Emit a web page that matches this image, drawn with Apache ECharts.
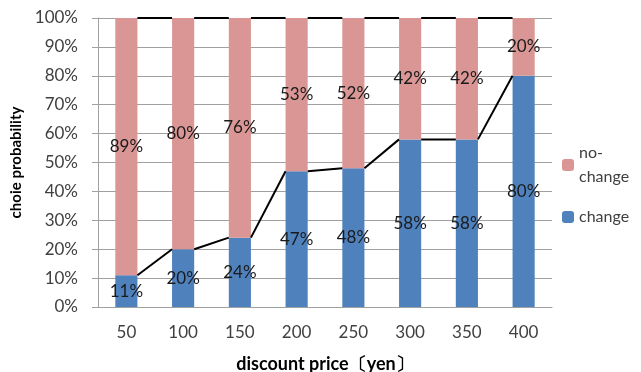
<!DOCTYPE html>
<html>
<head>
<meta charset="utf-8">
<script src="https://cdn.jsdelivr.net/npm/echarts@6/dist/echarts.min.js"></script>
<style>
	html, body { margin: 0; padding: 0; background: #fff; }
	#main { width: 641px; height: 372px; }
</style>
</head>
<body>
<div id="main"></div>
<script>
	// 数据
	var prices = ['50', '100', '150', '200', '250', '300', '350', '400'];
	var change = [11, 20, 24, 47, 48, 58, 58, 80];
	var noChange = [89, 80, 76, 53, 52, 42, 42, 20];
	var yTicks = [0, 10, 20, 30, 40, 50, 60, 70, 80, 90, 100];

	var BAR_RATIO = 0.39; // 柱宽占类目宽
	var font = 'Lato, "Open Sans", sans-serif';

	// 系列线：前一根柱右边缘连到后一根柱左边缘
	function seriesLine(tops) {
		return tops.slice(0, -1).map(function(v, i) {
			return [i, v, tops[i + 1]];
		});
	}
	var changeTops = change.slice();
	var allTops = change.map(function(v, i) { return v + noChange[i]; });

	function renderLine(params, api) {
		var half = api.size([1, 0])[0] * BAR_RATIO / 2;
		var a = api.coord([api.value(0), api.value(1)]);
		var b = api.coord([api.value(0) + 1, api.value(2)]);
		return {
			type: 'line',
			shape: { x1: a[0] + half, y1: a[1], x2: b[0] - half, y2: b[1] },
			style: { stroke: '#000', lineWidth: 2 }
		};
	}

	var myChart = echarts.init(document.getElementById('main'));
	var option = {
		animation: false,
		textStyle: { fontFamily: font },
		grid: { left: 98, right: 89, top: 18, bottom: 65, outerBoundsMode: 'none' },
		legend: [{
			data: ['no-change'],
			orient: 'vertical',
			left: 557,
			top: 124,
			itemWidth: 12,
			itemHeight: 12,
			itemGap: 4,
			formatter: function() { return 'no-\nchange'; },
			textStyle: { fontSize: 16, color: '#404040', lineHeight: 24, padding: [24, 0, 0, 0] }
		}, {
			data: ['change'],
			orient: 'vertical',
			left: 557,
			top: 204,
			itemWidth: 12,
			itemHeight: 12,
			itemGap: 4,
			textStyle: { fontSize: 16, color: '#404040' }
		}],
		xAxis: {
			type: 'category',
			data: prices,
			name: 'discount price〔yen〕',
			nameLocation: 'middle',
			nameGap: 48,
			nameTextStyle: { fontSize: 18, fontWeight: 'bold', color: '#000' },
			axisLine: { lineStyle: { color: '#a0a0a0', width: 1 } },
			axisTick: { show: false },
			axisLabel: { fontSize: 17, color: '#404040', margin: 17 }
		},
		yAxis: {
			type: 'value',
			min: yTicks[0],
			max: yTicks[yTicks.length - 1],
			interval: 10,
			name: 'choie probability',
			nameLocation: 'middle',
			nameRotate: 90,
			nameGap: 72,
			nameTextStyle: { fontSize: 15, fontWeight: 'bold', color: '#000' },
			axisLine: { show: true, lineStyle: { color: '#a0a0a0' } },
			axisTick: { show: true, length: 6, lineStyle: { color: '#a0a0a0' } },
			splitLine: { lineStyle: { color: '#a0a0a0' } },
			axisLabel: { fontSize: 17, color: '#404040', margin: 20, formatter: '{value}%' }
		},
		series: [{
			name: 'change',
			type: 'bar',
			stack: 'p',
			barWidth: (BAR_RATIO * 100) + '%',
			data: change,
			itemStyle: { color: '#4f81bd' },
			label: { show: true, position: 'inside', formatter: '{c}%', fontSize: 17, color: '#1a1a1a' }
		}, {
			name: 'no-change',
			type: 'bar',
			stack: 'p',
			barWidth: (BAR_RATIO * 100) + '%',
			data: noChange,
			itemStyle: { color: '#d99694' },
			label: { show: true, position: 'inside', formatter: '{c}%', fontSize: 17, color: '#1a1a1a' }
		}, {
			type: 'custom',
			renderItem: renderLine,
			data: seriesLine(changeTops),
			encode: { x: 0, y: 1 },
			z: 5,
			silent: true
		}, {
			type: 'custom',
			renderItem: renderLine,
			data: seriesLine(allTops),
			encode: { x: 0, y: 1 },
			z: 5,
			silent: true
		}]
	};
	myChart.setOption(option);
</script>
</body>
</html>
